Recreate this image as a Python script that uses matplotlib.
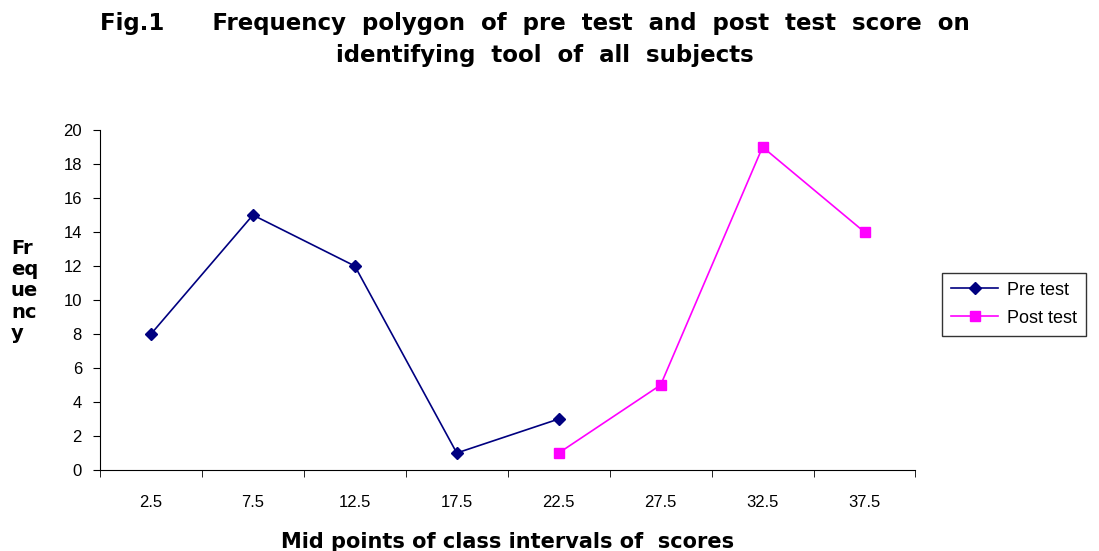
import matplotlib.pyplot as plt
import numpy as np

categories = ["2.5", "7.5", "12.5", "17.5", "22.5", "27.5", "32.5", "37.5"]
pre_idx = [0, 1, 2, 3, 4]
pre_test = [8, 15, 12, 1, 3]
post_idx = [4, 5, 6, 7]
post_test = [1, 5, 19, 14]

bold_font = ["Liberation Sans Narrow", "DejaVu Sans"]
tick_font = ["Liberation Sans", "DejaVu Sans"]

fig = plt.figure(figsize=(10.99, 5.51), dpi=100)
ax = fig.add_axes([0.091, 0.147, 0.742, 0.617])

ax.plot(pre_idx, pre_test, color="#000080", marker="D", markersize=6,
        linewidth=1.2, label="Pre test")
ax.plot(post_idx, post_test, color="#FF00FF", marker="s", markersize=7,
        linewidth=1.2, label="Post test")

ax.set_xlim(-0.5, len(categories) - 0.5)
ax.set_ylim(0, 20)
ax.set_yticks(np.arange(0, 21, 2))
ax.set_xticks(np.arange(len(categories)))
ax.set_xticklabels(categories)
ax.set_xticks(np.arange(len(categories) + 1) - 0.5, minor=True)
ax.tick_params(axis="x", which="major", length=0, pad=18)
ax.tick_params(axis="x", which="minor", length=5, direction="out")
ax.tick_params(axis="y", length=5, direction="out", pad=8)
for lbl in ax.get_xticklabels() + ax.get_yticklabels():
    lbl.set_fontfamily(tick_font)
    lbl.set_fontsize(12)

ax.spines["top"].set_visible(False)
ax.spines["right"].set_visible(False)

ax.set_xlabel("Mid points of class intervals of  scores", fontsize=15,
              fontweight="bold", family=bold_font, labelpad=16)
fig.text(0.01, 0.472, "Fr\neq\nue\nnc\ny", fontsize=14, fontweight="bold",
         family=bold_font, va="center", ha="left", linespacing=1.15)

fig.text(0.487, 0.958, "Fig.1      Frequency  polygon  of  pre  test  and  post  test  score  on",
         fontsize=16.5, fontweight="bold", family=bold_font, ha="center", va="center")
fig.text(0.496, 0.9, "identifying  tool  of  all  subjects",
         fontsize=16.5, fontweight="bold", family=bold_font, ha="center", va="center")

leg = fig.legend(loc="center left", bbox_to_anchor=(0.849, 0.448), frameon=True,
                 fancybox=False, edgecolor="black",
                 prop={"family": tick_font, "size": 13}, handlelength=2.6,
                 borderpad=0.5, labelspacing=0.6, handletextpad=0.5)
leg.get_frame().set_linewidth(1.0)

fig.savefig("out.png", dpi=100)
